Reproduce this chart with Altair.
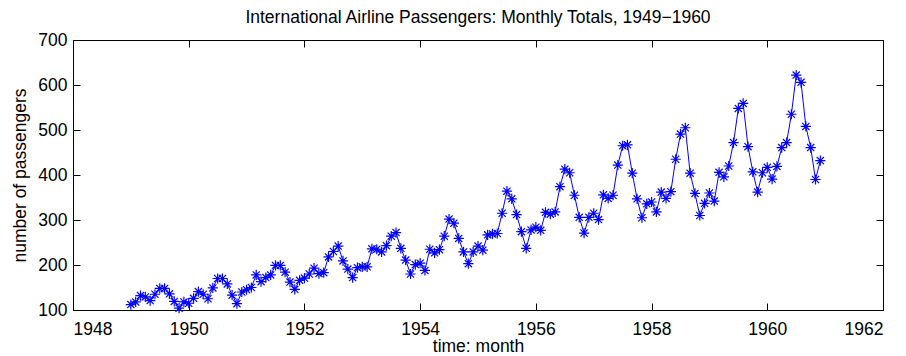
import altair as alt
import pandas as pd

years = list(range(1949, 1961))
passengers = [
    112, 118, 132, 129, 121, 135, 148, 148, 136, 119, 104, 118,
    115, 126, 141, 135, 125, 149, 170, 170, 158, 133, 114, 140,
    145, 150, 178, 163, 172, 178, 199, 199, 184, 162, 146, 166,
    171, 180, 193, 181, 183, 218, 230, 242, 209, 191, 172, 194,
    196, 196, 236, 235, 229, 243, 264, 272, 237, 211, 180, 201,
    204, 188, 235, 227, 234, 264, 302, 293, 259, 229, 203, 229,
    242, 233, 267, 269, 270, 315, 364, 347, 312, 274, 237, 278,
    284, 277, 317, 313, 318, 374, 413, 405, 355, 306, 271, 306,
    315, 301, 356, 348, 355, 422, 465, 467, 404, 347, 305, 336,
    340, 318, 362, 348, 363, 435, 491, 505, 404, 359, 310, 337,
    360, 342, 406, 396, 420, 472, 548, 559, 463, 407, 362, 405,
    417, 391, 419, 461, 472, 535, 622, 606, 508, 461, 390, 432,
]
x_ticks = [1948, 1950, 1952, 1954, 1956, 1958, 1960, 1962]
y_ticks = [100, 200, 300, 400, 500, 600, 700]

times = [y + m / 12 for y in years for m in range(12)]
df = pd.DataFrame({"t": times, "p": passengers})

FONT = "Liberation Sans"
FS = 17.5
BLUE = "#0000ff"
ASTER = "M-1,0L1,0M0,-1L0,1M-0.7,-0.7L0.7,0.7M-0.7,0.7L0.7,-0.7"

xscale = alt.Scale(domain=[1948, 1962], nice=False, zero=False)
yscale = alt.Scale(domain=[100, 700], nice=False, zero=False)

x_main = alt.X("t:Q", scale=xscale, title="time: month",
               axis=alt.Axis(values=x_ticks, format="d", orient="bottom",
                             offset=-7, tickSize=7, domain=False, grid=False,
                             labelPadding=10, titlePadding=0))
y_main = alt.Y("p:Q", scale=yscale, title="number of passengers",
               axis=alt.Axis(values=y_ticks, format="d", orient="left",
                             offset=-7, tickSize=7, domain=False, grid=False,
                             labelPadding=6, titlePadding=8))

line = alt.Chart(df).mark_line(color=BLUE, strokeWidth=1).encode(x=x_main, y=y_main)
pts = alt.Chart(df).mark_point(shape=ASTER, size=105, filled=False,
                               color=BLUE, strokeWidth=1.2, opacity=1).encode(
    x=alt.X("t:Q", scale=xscale,
            axis=alt.Axis(values=x_ticks, orient="top", labels=False, title=None,
                          offset=-7, tickSize=7, domain=False, grid=False)),
    y=alt.Y("p:Q", scale=yscale,
            axis=alt.Axis(values=y_ticks, orient="right", labels=False, title=None,
                          offset=-7, tickSize=7, domain=False, grid=False)),
)

chart = alt.layer(line, pts).resolve_axis(x="independent", y="independent").properties(
    width=810, height=270,
    autosize=alt.AutoSizeParams(type="none"),
    padding={"left": 73, "top": 40, "right": 23, "bottom": 46},
    title=alt.TitleParams("International Airline Passengers: Monthly Totals, 1949\u22121960",
                          fontSize=FS, font=FONT, fontWeight="normal", color="black",
                          offset=5, anchor="middle"),
    background="white",
).configure_view(stroke="black", strokeWidth=1).configure_axis(
    labelFont=FONT, titleFont=FONT, labelFontSize=FS, titleFontSize=FS,
    labelColor="black", titleColor="black", tickColor="black",
    titleFontWeight="normal",
)

chart.save("out.html", embed_options={"renderer": "svg", "actions": False})
